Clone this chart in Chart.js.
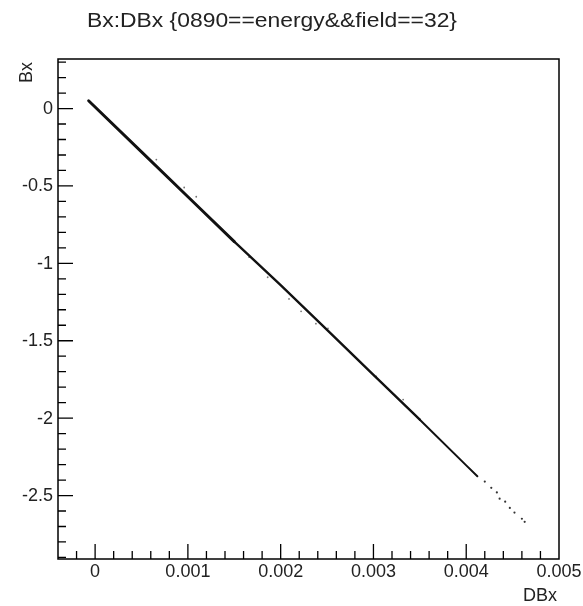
<!DOCTYPE html>
<html>
<head>
<meta charset="utf-8">
<script src="https://cdn.jsdelivr.net/npm/chart.js@4.4.1/dist/chart.umd.min.js"></script>
<style>
  html, body { margin: 0; padding: 0; background: #fff; }
  #wrap { width: 583px; height: 606px; }
</style>
</head>
<body>
<div id="wrap"><canvas id="c" width="583" height="606"></canvas></div>
<script>
// main band of the scatter (dense part)
const bandX = [-0.00007, 0.0005, 0.001, 0.0015, 0.002, 0.0025, 0.003, 0.0035, 0.004, 0.00412];
const bandY = [0.05, -0.28, -0.57, -0.86, -1.14, -1.43, -1.72, -2.01, -2.305, -2.375];

// sparse tail near the end
const tailX = [0.0042, 0.00427, 0.00433, 0.00436, 0.00442, 0.00447, 0.00452, 0.0046, 0.00463];
const tailY = [-2.41, -2.45, -2.48, -2.52, -2.54, -2.58, -2.61, -2.65, -2.67];

// stray points just off the band
const strayX = [0.00066, 0.00096, 0.00109, 0.00166, 0.00186, 0.00209, 0.00222, 0.00238, 0.00251, 0.00276, 0.00303, 0.00332];
const strayY = [-0.33, -0.51, -0.57, -0.96, -1.09, -1.23, -1.31, -1.39, -1.42, -1.58, -1.73, -1.88];

const TITLE = "Bx:DBx {0890==energy&&field==32}";
const X_TITLE = "DBx";
const Y_TITLE = "Bx";

const FONT = '"Liberation Sans", Arial, Helvetica, sans-serif';

const pts = (xs, ys) => xs.map((x, i) => ({ x, y: ys[i] }));

function fmtTick(v) {
  const r = +v.toFixed(6);
  return r === 0 ? "0" : String(r);
}

const rootFrame = {
  id: "rootFrame",
  afterDraw(chart) {
    const { ctx, chartArea: a, scales } = chart;
    const x = scales.x, y = scales.y;
    ctx.save();
    ctx.strokeStyle = "#000";
    ctx.lineWidth = 1.5;
    ctx.strokeRect(a.left, a.top, a.right - a.left, a.bottom - a.top);

    // ticks drawn inside the frame, ROOT style
    ctx.lineWidth = 1.3;
    ctx.beginPath();
    for (let i = -2; i <= 25; i++) {
      const px = x.getPixelForValue(i * 0.0002);
      if (px < a.left + 1 || px > a.right - 1) continue;
      const len = i % 5 === 0 ? 15 : 8;
      ctx.moveTo(px, a.bottom);
      ctx.lineTo(px, a.bottom - len);
    }
    for (let i = -29; i <= 3; i++) {
      const py = y.getPixelForValue(i * 0.1);
      if (py < a.top + 1 || py > a.bottom - 1) continue;
      const len = i % 5 === 0 ? 15 : 8;
      ctx.moveTo(a.left, py);
      ctx.lineTo(a.left + len, py);
    }
    ctx.stroke();

    // tick labels
    ctx.fillStyle = "#222";
    ctx.font = "18px " + FONT;
    ctx.textAlign = "center";
    ctx.textBaseline = "alphabetic";
    x.ticks.forEach((t) => {
      ctx.fillText(fmtTick(t.value), x.getPixelForValue(t.value), a.bottom + 18);
    });
    ctx.textAlign = "right";
    ctx.textBaseline = "middle";
    y.ticks.forEach((t) => {
      ctx.fillText(fmtTick(t.value), a.left - 5, y.getPixelForValue(t.value) + 0.5);
    });

    // axis titles
    ctx.textAlign = "right";
    ctx.textBaseline = "alphabetic";
    ctx.fillText(X_TITLE, a.right - 2, a.bottom + 42);
    ctx.save();
    ctx.translate(32, a.top + 3);
    ctx.rotate(-Math.PI / 2);
    ctx.textAlign = "right";
    ctx.fillText(Y_TITLE, 0, 0);
    ctx.restore();

    // title (the reference glyphs are wide, stretch to fit)
    ctx.font = "20px " + FONT;
    const w = ctx.measureText(TITLE).width;
    ctx.save();
    ctx.translate(272, 27);
    ctx.scale(370 / w, 1);
    ctx.textAlign = "center";
    ctx.fillText(TITLE, 0, 0);
    ctx.restore();

    ctx.restore();
  },
};

new Chart(document.getElementById("c"), {
  type: "scatter",
  data: {
    datasets: [
      {
        label: "band",
        data: pts(bandX, bandY),
        showLine: true,
        borderColor: "#111",
        borderWidth: 2.6,
        segment: {
          borderWidth: (c) => (c.p0DataIndex < 3 ? 2.9 : c.p0DataIndex < 7 ? 2.4 : 2.0),
        },
        pointRadius: 0,
        borderCapStyle: "round",
        borderJoinStyle: "round",
      },
      {
        label: "tail",
        data: pts(tailX, tailY),
        pointRadius: 1.1,
        pointBorderWidth: 0,
        backgroundColor: "#333",
      },
      {
        label: "stray",
        data: pts(strayX, strayY),
        pointRadius: 0.9,
        pointBorderWidth: 0,
        backgroundColor: "#777",
      },
    ],
  },
  options: {
    responsive: false,
    animation: false,
    devicePixelRatio: 1,
    layout: { padding: { left: 58, right: 24, top: 59, bottom: 47 } },
    scales: {
      x: {
        type: "linear",
        min: -0.0004,
        max: 0.005,
        ticks: { display: false, stepSize: 0.001, includeBounds: false },
        grid: { display: false, drawTicks: false },
        border: { display: false },
      },
      y: {
        type: "linear",
        min: -2.91,
        max: 0.32,
        ticks: { display: false, stepSize: 0.5, includeBounds: false },
        grid: { display: false, drawTicks: false },
        border: { display: false },
      },
    },
    plugins: {
      legend: { display: false },
      tooltip: { enabled: false },
      title: { display: false },
    },
  },
  plugins: [rootFrame],
});
</script>
</body>
</html>
